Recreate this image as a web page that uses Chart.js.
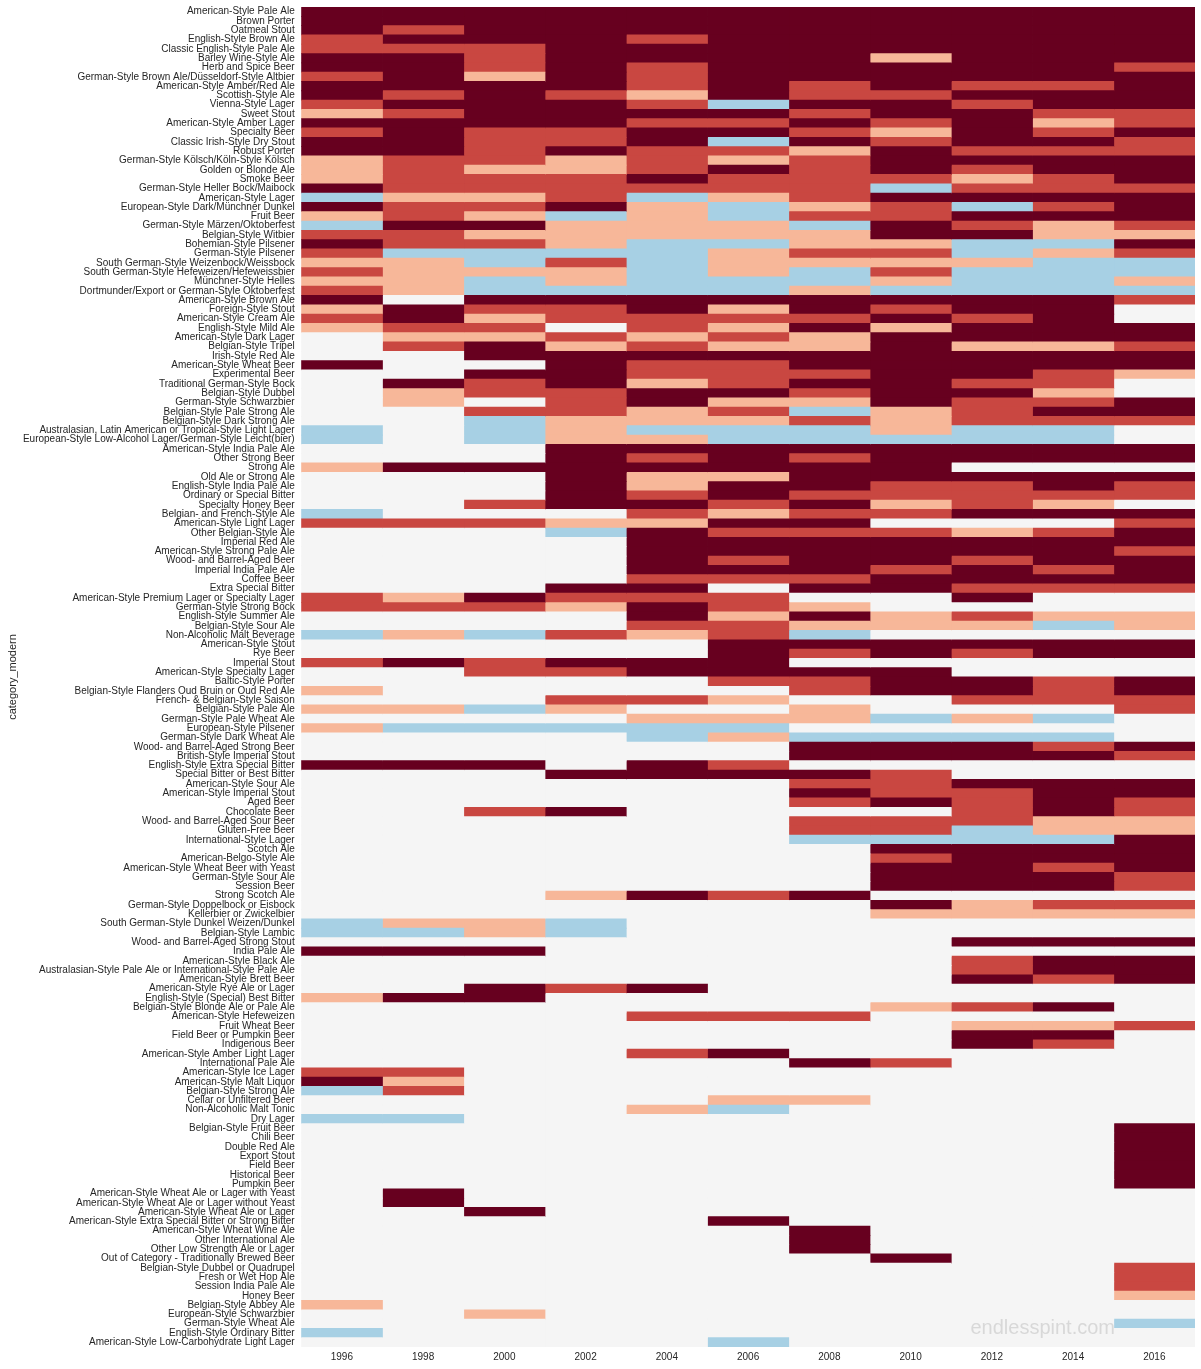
<!DOCTYPE html>
<html lang="en">
<head>
    <meta charset="UTF-8">
    <title>Beer style medal heatmap</title>
    <script src="https://cdn.jsdelivr.net/npm/chart.js"></script>
    <style>
        html, body { margin: 0; padding: 0; background: #fff; }
        canvas { display: block; }
    </style>
</head>
<body>
    <canvas id="heatmap" width="1201" height="1369"></canvas>

    <script>
        const years = [1996, 1998, 2000, 2002, 2004, 2006, 2008, 2010, 2012, 2014, 2016];

        const styles = [
            'American-Style Pale Ale', 'Brown Porter', 'Oatmeal Stout', 'English-Style Brown Ale',
            'Classic English-Style Pale Ale', 'Barley Wine-Style Ale', 'Herb and Spice Beer',
            'German-Style Brown Ale/Düsseldorf-Style Altbier', 'American-Style Amber/Red Ale', 'Scottish-Style Ale',
            'Vienna-Style Lager', 'Sweet Stout', 'American-Style Amber Lager', 'Specialty Beer',
            'Classic Irish-Style Dry Stout', 'Robust Porter', 'German-Style Kölsch/Köln-Style Kölsch',
            'Golden or Blonde Ale', 'Smoke Beer', 'German-Style Heller Bock/Maibock', 'American-Style Lager',
            'European-Style Dark/Münchner Dunkel', 'Fruit Beer', 'German-Style Märzen/Oktoberfest',
            'Belgian-Style Witbier', 'Bohemian-Style Pilsener', 'German-Style Pilsener',
            'South German-Style Weizenbock/Weissbock', 'South German-Style Hefeweizen/Hefeweissbier',
            'Münchner-Style Helles', 'Dortmunder/Export or German-Style Oktoberfest', 'American-Style Brown Ale',
            'Foreign-Style Stout', 'American-Style Cream Ale', 'English-Style Mild Ale', 'American-Style Dark Lager',
            'Belgian-Style Tripel', 'Irish-Style Red Ale', 'American-Style Wheat Beer', 'Experimental Beer',
            'Traditional German-Style Bock', 'Belgian-Style Dubbel', 'German-Style Schwarzbier',
            'Belgian-Style Pale Strong Ale', 'Belgian-Style Dark Strong Ale',
            'Australasian, Latin American or Tropical-Style Light Lager',
            'European-Style Low-Alcohol Lager/German-Style Leicht(bier)', 'American-Style India Pale Ale',
            'Other Strong Beer', 'Strong Ale', 'Old Ale or Strong Ale', 'English-Style India Pale Ale',
            'Ordinary or Special Bitter', 'Specialty Honey Beer', 'Belgian- and French-Style Ale',
            'American-Style Light Lager', 'Other Belgian-Style Ale', 'Imperial Red Ale',
            'American-Style Strong Pale Ale', 'Wood- and Barrel-Aged Beer', 'Imperial India Pale Ale', 'Coffee Beer',
            'Extra Special Bitter', 'American-Style Premium Lager or Specialty Lager', 'German-Style Strong Bock',
            'English-Style Summer Ale', 'Belgian-Style Sour Ale', 'Non-Alcoholic Malt Beverage',
            'American-Style Stout', 'Rye Beer', 'Imperial Stout', 'American-Style Specialty Lager',
            'Baltic-Style Porter', 'Belgian-Style Flanders Oud Bruin or Oud Red Ale', 'French- & Belgian-Style Saison',
            'Belgian-Style Pale Ale', 'German-Style Pale Wheat Ale', 'European-Style Pilsener',
            'German-Style Dark Wheat Ale', 'Wood- and Barrel-Aged Strong Beer', 'British-Style Imperial Stout',
            'English-Style Extra Special Bitter', 'Special Bitter or Best Bitter', 'American-Style Sour Ale',
            'American-Style Imperial Stout', 'Aged Beer', 'Chocolate Beer', 'Wood- and Barrel-Aged Sour Beer',
            'Gluten-Free Beer', 'International-Style Lager', 'Scotch Ale', 'American-Belgo-Style Ale',
            'American-Style Wheat Beer with Yeast', 'German-Style Sour Ale', 'Session Beer', 'Strong Scotch Ale',
            'German-Style Doppelbock or Eisbock', 'Kellerbier or Zwickelbier',
            'South German-Style Dunkel Weizen/Dunkel', 'Belgian-Style Lambic', 'Wood- and Barrel-Aged Strong Stout',
            'India Pale Ale', 'American-Style Black Ale',
            'Australasian-Style Pale Ale or International-Style Pale Ale', 'American-Style Brett Beer',
            'American-Style Rye Ale or Lager', 'English-Style (Special) Best Bitter',
            'Belgian-Style Blonde Ale or Pale Ale', 'American-Style Hefeweizen', 'Fruit Wheat Beer',
            'Field Beer or Pumpkin Beer', 'Indigenous Beer', 'American-Style Amber Light Lager',
            'International Pale Ale', 'American-Style Ice Lager', 'American-Style Malt Liquor',
            'Belgian-Style Strong Ale', 'Cellar or Unfiltered Beer', 'Non-Alcoholic Malt Tonic', 'Dry Lager',
            'Belgian-Style Fruit Beer', 'Chili Beer', 'Double Red Ale', 'Export Stout', 'Field Beer',
            'Historical Beer', 'Pumpkin Beer', 'American-Style Wheat Ale or Lager with Yeast',
            'American-Style Wheat Ale or Lager without Yeast', 'American-Style Wheat Ale or Lager',
            'American-Style Extra Special Bitter or Strong Bitter', 'American-Style Wheat Wine Ale',
            'Other International Ale', 'Other Low Strength Ale or Lager',
            'Out of Category - Traditionally Brewed Beer', 'Belgian-Style Dubbel or Quadrupel',
            'Fresh or Wet Hop Ale', 'Session India Pale Ale', 'Honey Beer', 'Belgian-Style Abbey Ale',
            'European-Style Schwarzbier', 'German-Style Wheat Ale', 'English-Style Ordinary Bitter',
            'American-Style Low-Carbohydrate Light Lager'
        ];

        // one row per style, one number per year: 0 none, 1 blue ... 4 darkest
        const levels = [
            [4,4,4,4,4,4,4,4,4,4,4], [4,4,4,4,4,4,4,4,4,4,4], [4,3,4,4,4,4,4,4,4,4,4], [3,4,4,4,3,4,4,4,4,4,4],
            [3,3,3,4,4,4,4,4,4,4,4], [4,4,3,4,4,4,4,2,4,4,4], [4,4,3,4,3,4,4,4,4,4,3], [3,4,2,4,3,4,4,4,4,4,4],
            [4,4,4,4,3,4,3,4,3,3,4], [4,3,4,3,2,4,3,3,4,4,4], [3,4,4,4,3,1,4,4,3,4,4], [2,3,4,4,4,4,3,4,4,3,3],
            [4,4,4,4,3,3,4,3,4,2,3], [3,4,3,3,4,4,3,2,4,3,4], [4,4,3,3,4,1,4,3,4,4,3], [4,4,3,4,3,3,2,4,3,3,3],
            [2,3,3,2,3,2,3,4,4,4,4], [2,3,2,2,3,4,3,4,3,4,4], [2,3,3,3,4,3,3,3,2,3,4], [4,3,3,3,3,3,3,1,3,3,3],
            [1,2,2,3,1,2,3,4,4,4,4], [4,3,3,4,2,1,2,3,1,3,4], [2,3,2,1,2,1,3,3,4,4,4], [1,4,4,2,2,2,1,4,3,2,3],
            [3,3,2,2,2,2,2,4,4,2,2], [4,3,3,2,1,1,2,2,1,1,4], [3,1,1,1,1,2,3,3,1,2,3], [2,2,1,3,1,2,2,2,2,1,1],
            [3,2,2,2,1,2,1,3,1,1,1], [2,2,1,2,1,1,1,2,1,1,2], [3,2,1,1,1,1,2,1,1,1,1], [4,0,4,4,4,4,4,4,4,4,3],
            [2,4,3,3,4,2,4,3,4,4,0], [3,4,2,3,3,3,3,4,3,4,0], [2,3,3,0,3,2,4,2,4,4,4], [0,2,2,3,2,3,2,4,4,4,4],
            [0,3,4,2,3,2,2,4,2,2,3], [0,0,4,4,4,4,4,4,4,4,4], [4,0,0,4,3,3,4,4,4,4,4], [0,0,4,4,3,3,3,4,4,3,2],
            [0,4,3,4,2,3,4,4,3,3,0], [0,2,3,3,4,4,3,4,4,2,0], [0,2,0,3,4,2,2,4,3,3,4], [0,0,3,3,2,3,1,2,3,4,4],
            [0,0,1,2,2,2,3,2,3,3,3], [1,0,1,2,1,1,1,2,1,1,0], [1,0,1,2,2,1,1,1,1,1,0], [0,0,0,4,4,4,4,4,4,4,4],
            [0,0,0,4,3,4,3,4,4,4,4], [2,4,4,4,4,4,4,4,0,0,0], [0,0,0,4,2,2,4,4,4,4,4], [0,0,0,4,2,4,4,3,3,4,3],
            [0,0,0,4,3,4,3,3,3,3,3], [0,0,3,4,4,3,4,2,3,2,0], [1,0,0,0,3,2,3,3,4,4,4], [3,3,3,2,2,4,4,0,0,0,3],
            [0,0,0,1,4,3,3,3,2,3,4], [0,0,0,0,4,4,4,4,4,4,4], [0,0,0,0,4,4,4,4,4,4,3], [0,0,0,0,4,3,4,4,3,4,4],
            [0,0,0,0,4,4,4,3,4,3,4], [0,0,0,0,3,3,3,4,4,4,4], [0,0,0,4,4,0,4,4,3,3,3], [3,2,4,3,3,3,0,0,4,0,0],
            [3,3,3,2,4,3,2,0,0,0,0], [0,0,0,0,4,2,4,2,3,2,2], [0,0,0,0,3,3,2,2,2,1,2], [1,2,1,3,2,3,1,0,0,0,0],
            [0,0,0,0,0,4,4,4,4,4,4], [0,0,0,0,0,4,3,4,3,4,4], [3,4,3,4,4,4,0,0,0,0,0], [0,0,3,3,4,4,4,4,0,0,0],
            [0,0,0,0,0,3,3,4,4,3,4], [2,0,0,0,0,0,3,4,4,3,4], [0,0,0,3,3,2,0,0,3,3,3], [2,2,1,2,0,0,2,0,0,0,3],
            [0,0,0,0,2,2,2,1,2,1,0], [2,1,1,1,1,1,0,0,0,0,0], [0,0,0,0,1,2,1,1,1,1,0], [0,0,0,0,0,0,4,4,4,3,4],
            [0,0,0,0,0,0,4,4,4,4,3], [4,4,4,0,4,3,0,0,0,0,0], [0,0,0,4,4,4,4,3,0,0,0], [0,0,0,0,0,0,3,3,4,4,4],
            [0,0,0,0,0,0,4,3,3,4,4], [0,0,0,0,0,0,3,4,3,4,3], [0,0,3,4,0,0,0,0,3,4,3], [0,0,0,0,0,0,3,3,3,2,2],
            [0,0,0,0,0,0,3,3,1,2,2], [0,0,0,0,0,0,1,1,1,1,4], [0,0,0,0,0,0,0,4,4,4,4], [0,0,0,0,0,0,0,3,4,4,4],
            [0,0,0,0,0,0,0,4,4,3,4], [0,0,0,0,0,0,0,4,4,4,3], [0,0,0,0,0,0,0,4,4,4,3], [0,0,0,2,4,3,4,0,0,0,0],
            [0,0,0,0,0,0,0,4,2,3,3], [0,0,0,0,0,0,0,2,2,2,2], [1,2,2,1,0,0,0,0,0,0,0], [1,1,2,1,0,0,0,0,0,0,0],
            [0,0,0,0,0,0,0,0,4,4,4], [4,4,4,0,0,0,0,0,0,0,0], [0,0,0,0,0,0,0,0,3,4,4], [0,0,0,0,0,0,0,0,3,4,4],
            [0,0,0,0,0,0,0,0,4,3,4], [0,0,4,3,4,0,0,0,0,0,0], [2,4,4,0,0,0,0,0,0,0,0], [0,0,0,0,0,0,0,2,3,4,0],
            [0,0,0,0,3,3,3,0,0,0,0], [0,0,0,0,0,0,0,0,2,2,3], [0,0,0,0,0,0,0,0,4,4,0], [0,0,0,0,0,0,0,0,4,3,0],
            [0,0,0,0,3,4,0,0,0,0,0], [0,0,0,0,0,0,4,3,0,0,0], [3,3,0,0,0,0,0,0,0,0,0], [4,2,0,0,0,0,0,0,0,0,0],
            [1,3,0,0,0,0,0,0,0,0,0], [0,0,0,0,0,2,2,0,0,0,0], [0,0,0,0,2,1,0,0,0,0,0], [1,1,0,0,0,0,0,0,0,0,0],
            [0,0,0,0,0,0,0,0,0,0,4], [0,0,0,0,0,0,0,0,0,0,4], [0,0,0,0,0,0,0,0,0,0,4], [0,0,0,0,0,0,0,0,0,0,4],
            [0,0,0,0,0,0,0,0,0,0,4], [0,0,0,0,0,0,0,0,0,0,4], [0,0,0,0,0,0,0,0,0,0,4], [0,4,0,0,0,0,0,0,0,0,0],
            [0,4,0,0,0,0,0,0,0,0,0], [0,0,4,0,0,0,0,0,0,0,0], [0,0,0,0,0,4,0,0,0,0,0], [0,0,0,0,0,0,4,0,0,0,0],
            [0,0,0,0,0,0,4,0,0,0,0], [0,0,0,0,0,0,4,0,0,0,0], [0,0,0,0,0,0,0,4,0,0,0], [0,0,0,0,0,0,0,0,0,0,3],
            [0,0,0,0,0,0,0,0,0,0,3], [0,0,0,0,0,0,0,0,0,0,3], [0,0,0,0,0,0,0,0,0,0,2], [2,0,0,0,0,0,0,0,0,0,0],
            [0,0,2,0,0,0,0,0,0,0,0], [0,0,0,0,0,0,0,0,0,0,1], [1,0,0,0,0,0,0,0,0,0,0], [0,0,0,0,0,1,0,0,0,0,0]
        ];

        const levelColors = ['#f5f5f5', '#a7d0e4', '#f7b799', '#c94741', '#67001f'];

        // 画水印
        const watermark = {
            id: 'watermark',
            afterDraw(chart) {
                const ctx = chart.ctx;
                ctx.save();
                ctx.font = '20px "Liberation Sans"';
                ctx.fillStyle = 'rgba(150, 150, 150, 0.3)';
                ctx.textAlign = 'right';
                ctx.textBaseline = 'alphabetic';
                ctx.fillText('endlesspint.com', 1115, 1334);
                ctx.restore();
            }
        };

        new Chart(document.getElementById('heatmap'), {
            type: 'bar',
            data: {
                labels: styles,
                datasets: years.map((year, col) => ({
                    label: String(year),
                    data: levels.map(() => [year - 1, year + 1]),
                    backgroundColor: levels.map(row => levelColors[row[col]]),
                    borderWidth: 0,
                    inflateAmount: 0.4,
                    barPercentage: 1,
                    categoryPercentage: 1,
                    grouped: false
                }))
            },
            options: {
                indexAxis: 'y',
                responsive: false,
                animation: false,
                layout: { padding: { top: 7, right: 6, left: 0, bottom: 0 } },
                plugins: { legend: { display: false }, tooltip: { enabled: false } },
                scales: {
                    x: {
                        type: 'linear',
                        min: years[0] - 1,
                        max: years[years.length - 1] + 1,
                        grid: { display: false, drawTicks: false },
                        border: { display: false },
                        afterBuildTicks: scale => { scale.ticks = years.map(y => ({ value: y })); },
                        afterFit: scale => { scale.height = 22; },
                        ticks: {
                            autoSkip: false,
                            maxRotation: 0,
                            padding: 4,
                            color: '#262626',
                            font: { family: '"Liberation Sans"', size: 10 },
                            callback: value => String(value)
                        }
                    },
                    y: {
                        type: 'category',
                        grid: { display: false, drawTicks: false },
                        border: { display: false },
                        afterFit: scale => {
                            scale.width = 301.2;
                            scale.paddingTop = 0;
                            scale.paddingBottom = 0;
                        },
                        title: {
                            display: true,
                            text: 'category_modern',
                            color: '#262626',
                            padding: { top: 6, bottom: 0 },
                            font: { family: '"Liberation Sans"', size: 11 }
                        },
                        ticks: {
                            autoSkip: false,
                            padding: 6.5,
                            color: '#262626',
                            font: { family: '"Liberation Sans"', size: 10 }
                        }
                    }
                }
            },
            plugins: [watermark]
        });
    </script>
</body>
</html>
